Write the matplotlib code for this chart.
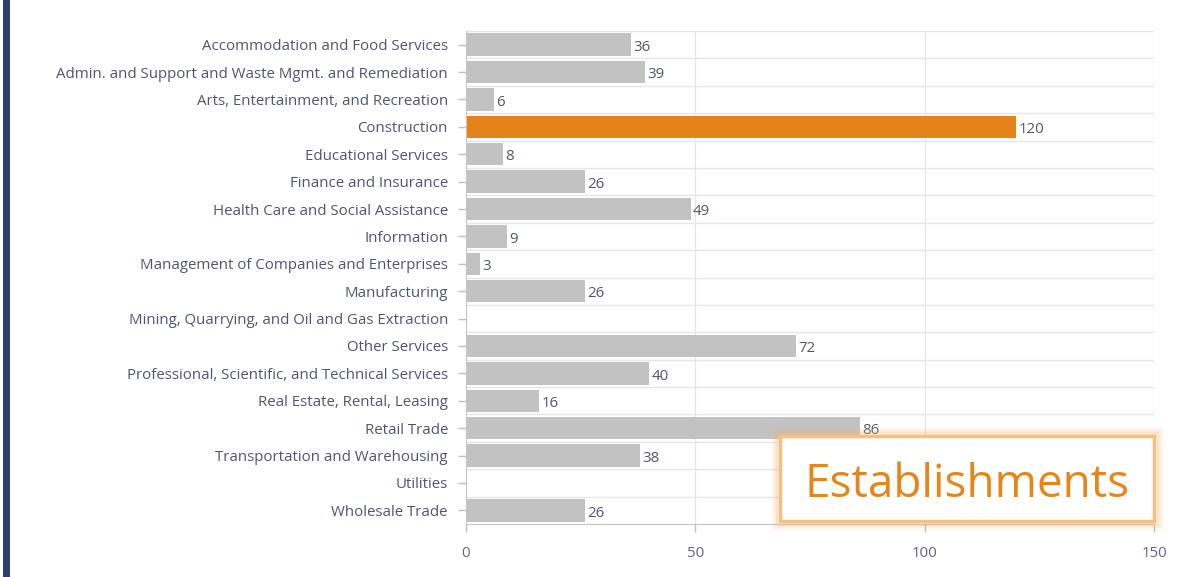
import matplotlib
matplotlib.use("Agg")
import matplotlib.pyplot as plt
from matplotlib.patches import Rectangle

categories = [
    "Accommodation and Food Services",
    "Admin. and Support and Waste Mgmt. and Remediation",
    "Arts, Entertainment, and Recreation",
    "Construction",
    "Educational Services",
    "Finance and Insurance",
    "Health Care and Social Assistance",
    "Information",
    "Management of Companies and Enterprises",
    "Manufacturing",
    "Mining, Quarrying, and Oil and Gas Extraction",
    "Other Services",
    "Professional, Scientific, and Technical Services",
    "Real Estate, Rental, Leasing",
    "Retail Trade",
    "Transportation and Warehousing",
    "Utilities",
    "Wholesale Trade",
]
values = [36, 39, 6, 120, 8, 26, 49, 9, 3, 26, None, 72, 40, 16, 86, 38, None, 26]
highlight = "Construction"
x_ticks = [0, 50, 100, 150]
title_text = "Establishments"

W, H = 1192, 577
fig = plt.figure(figsize=(W / 100, H / 100), dpi=100)
fig.patch.set_facecolor("white")

FONT = "Open Sans"
FS = 10.8

ax = fig.add_axes([466 / W, 1 - 524 / H, (1154 - 466) / W, (524 - 31) / H])
n = len(categories)
ypos = list(range(n))
vals = [v if v is not None else 0 for v in values]
colors = ["#e5831a" if c == highlight else "#c2c2c2" for c in categories]
ax.barh(ypos, vals, height=0.82, color=colors, zorder=3)
ax.set_ylim(n - 0.5, -0.5)
ax.set_xlim(0, 150)
ax.set_yticks(ypos)
ax.set_yticklabels(categories)
ax.set_xticks(x_ticks)
ax.set_xticklabels([str(t) for t in x_ticks])

label_color = "#4b5670"
for lab in ax.get_yticklabels():
    lab.set_fontfamily(FONT)
    lab.set_fontsize(FS)
    lab.set_color(label_color)
for lab in ax.get_xticklabels():
    lab.set_fontfamily(FONT)
    lab.set_fontsize(FS)
    lab.set_color("#5a6580")

ax.tick_params(axis="y", length=6, width=1, color="#bfbfbf", pad=7)
ax.tick_params(axis="x", length=6, width=1, color="#bfbfbf", pad=10)

for t in x_ticks[1:]:
    ax.axvline(t, color="#e6e6e6", lw=1, zorder=1)
for i in range(n):
    ax.axhline(i - 0.5, color="#e6e6e6", lw=1, zorder=1)
for s in ["top", "right"]:
    ax.spines[s].set_visible(False)
for s in ["left", "bottom"]:
    ax.spines[s].set_color("#c4c4c4")
    ax.spines[s].set_zorder(4)

for i, v in enumerate(values):
    if v is None:
        continue
    ax.text(v + 0.5, i + 0.1, str(v), va="center", ha="left",
            fontsize=FS, color=label_color, fontfamily=FONT, zorder=5)

# left dark stripe
fig.patches.append(Rectangle((3 / W, 0), 7 / W, 1, transform=fig.transFigure,
                             facecolor="#2e4068", edgecolor="none"))

# Establishments box with glow
x0, y0, x1, y1 = 780, 436, 1154, 521
for k, a in [(7, 0.08), (5, 0.15), (3, 0.3)]:
    fig.patches.append(Rectangle(((x0 - k) / W, 1 - (y1 + k) / H), (x1 - x0 + 2 * k) / W,
                                 (y1 - y0 + 2 * k) / H, transform=fig.transFigure,
                                 facecolor="none", edgecolor="#f5b66e", lw=2.5, alpha=a, zorder=10))
fig.patches.append(Rectangle((x0 / W, 1 - y1 / H), (x1 - x0) / W, (y1 - y0) / H,
                             transform=fig.transFigure, facecolor="white",
                             edgecolor="#f7c083", lw=2.5, zorder=11))
fig.text((x0 + x1) / 2 / W + 0.5 / W, 1 - 497 / H, title_text, ha="center", va="baseline",
         fontsize=33, color="#e6861a", fontfamily=FONT, zorder=12)

fig.savefig("out.png", dpi=100, facecolor="white")
